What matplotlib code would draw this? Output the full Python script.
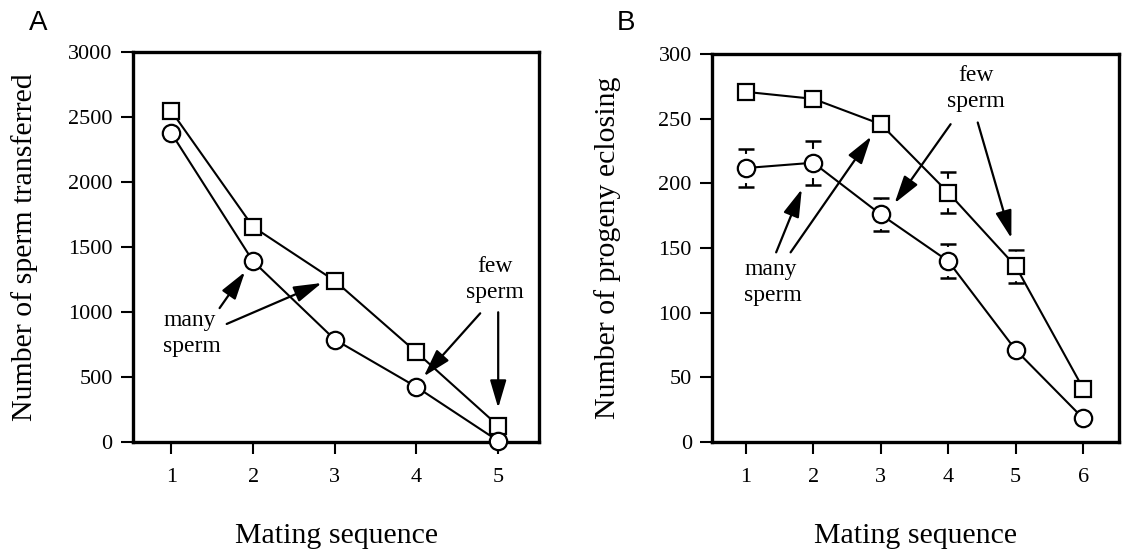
import numpy as np
import matplotlib
matplotlib.use("Agg")
import matplotlib.pyplot as plt

plt.rcParams['font.family'] = ['Liberation Serif', 'DejaVu Serif']

# panel A: sperm transferred
matingA = [1, 2, 3, 4, 5]
spermFew = [2545, 1655, 1240, 690, 125]
spermMany = [2375, 1390, 788, 423, 8]

# panel B: progeny eclosing
matingB = [1, 2, 3, 4, 5, 6]
progenySquare = [270.7, 265.3, 245.7, 192.8, 135.8, 41.3]
progenyCircle = [211.8, 215.9, 175.9, 139.8, 71.1, 18.2]
errSquare = [np.nan, np.nan, np.nan, 16, 13, np.nan]
errCircle = [15, 17, 13, 13, np.nan, np.nan]

# annotations: (text, x, y, align) and arrows (tail x, tail y, head x, head y)
labelsA = [("many\nsperm", 0.90, 835, 'left'), ("few\nsperm", 4.96, 1250, 'center')]
arrowsA = [(1.59, 1030, 1.90, 1308), (1.677, 908, 2.84, 1223),
           (4.78, 990, 4.09, 505), (5.0, 998, 5.0, 262)]
labelsB = [("many\nsperm", 0.98, 123, 'left'), ("few\nsperm", 4.41, 273, 'center')]
arrowsB = [(1.45, 146.6, 1.83, 195.5), (1.664, 146.6, 2.858, 236.2),
           (4.035, 245.7, 3.205, 184.6), (4.437, 247, 4.935, 157.5)]

fig = plt.figure(figsize=(11.27, 5.5), dpi=100)
axA = fig.add_axes([0.118, 0.1964, 0.3603, 0.709])
axB = fig.add_axes([0.6318, 0.1964, 0.3611, 0.7055])

mk = dict(color='black', lw=1.5, mfc='white', mec='black', mew=1.6, clip_on=False)


def style(ax):
    for s in ax.spines.values():
        s.set_linewidth(2.4)
    ax.tick_params(direction='out', length=8.6, width=1.5, labelsize=16)
    ax.tick_params(axis='x', pad=10)
    ax.tick_params(axis='y', pad=6)


def notes(ax, labels, arrows):
    for txt, x, y, ha in labels:
        ax.text(x, y, txt, fontsize=17, ha=ha, va='center', linespacing=1.3)
    for x0, y0, x1, y1 in arrows:
        ax.annotate('', xy=(x1, y1), xytext=(x0, y0),
                    arrowprops=dict(arrowstyle='-|>,head_length=0.85,head_width=0.25',
                                    color='black', lw=1.6, shrinkA=0, shrinkB=0,
                                    mutation_scale=20), zorder=6)


# A
axA.plot(matingA, spermFew, marker='s', ms=12, zorder=4, **mk)
axA.plot(matingA, spermMany, marker='o', ms=12.5, zorder=5, **mk)
axA.set_xlim(0.53, 5.5)
axA.set_ylim(0, 3000)
axA.set_xticks(matingA)
axA.set_yticks(np.arange(0, 3001, 500))
style(axA)
axA.set_xlabel('Mating sequence', fontsize=21.5, labelpad=26)
axA.set_ylabel('Number of sperm transferred', fontsize=21.5, labelpad=22)
notes(axA, labelsA, arrowsA)

# B
axB.errorbar(matingB, progenySquare, yerr=errSquare, fmt='none', ecolor='black',
             elinewidth=1.5, capsize=5.5, capthick=1.8, zorder=1)
axB.errorbar(matingB, progenyCircle, yerr=errCircle, fmt='none', ecolor='black',
             elinewidth=1.5, capsize=5.5, capthick=1.8, zorder=1)
for yv, m in [(progenySquare, 's'), (progenyCircle, 'o')]:
    axB.plot(matingB, yv, ls='none', marker=m, ms=20, mfc='white', mec='white', zorder=2)
axB.plot(matingB, progenySquare, marker='s', ms=12, zorder=4, **mk)
axB.plot(matingB, progenyCircle, marker='o', ms=12.5, zorder=5, **mk)
axB.set_xlim(0.5, 6.53)
axB.set_ylim(0, 300)
axB.set_xticks(matingB)
axB.set_yticks(np.arange(0, 301, 50))
style(axB)
axB.set_xlabel('Mating sequence', fontsize=21.5, labelpad=26)
axB.set_ylabel('Number of progeny eclosing', fontsize=21.5, labelpad=27)
notes(axB, labelsB, arrowsB)

fig.text(0.0337, 0.958, 'A', fontsize=20, family='Liberation Sans', ha='center', va='center')
fig.text(0.5555, 0.958, 'B', fontsize=20, family='Liberation Sans', ha='center', va='center')

fig.savefig('out.png', dpi=100)
